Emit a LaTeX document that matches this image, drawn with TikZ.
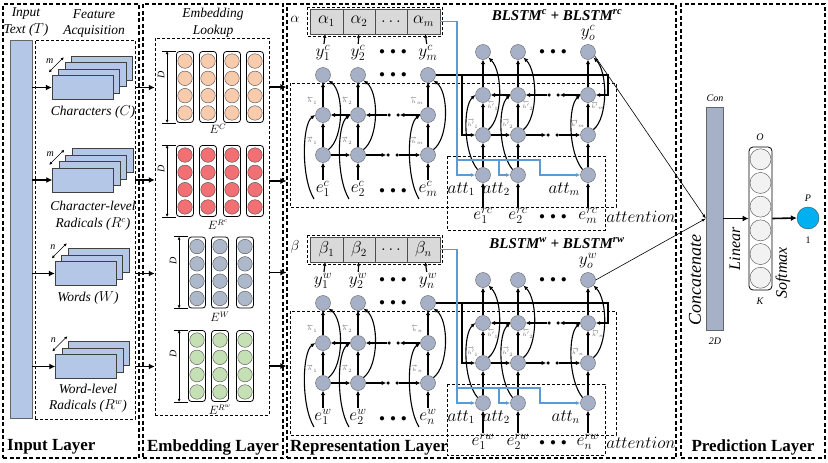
\documentclass[tikz,border=0pt]{standalone}
\usepackage{amsmath}
\usepackage{fontspec}
\setmainfont{Liberation Serif}
\usetikzlibrary{positioning, arrows.meta, calc}

\definecolor{sheetblue}{HTML}{B4C7E7}
\definecolor{peach}{HTML}{F8CBAD}
\definecolor{rose}{HTML}{F26F73}
\definecolor{slate}{HTML}{ADB9CA}
\definecolor{sage}{HTML}{C5E0B4}
\definecolor{cellgray}{HTML}{A6B0C6}
\definecolor{wgray}{HTML}{D9D9D9}
\definecolor{ogray}{HTML}{F2F2F2}
\definecolor{attblue}{HTML}{5B9BD5}
\definecolor{pcyan}{HTML}{00B0F0}

\begin{document}
\begin{tikzpicture}
    [
        x=1pt, y=-1pt,
        frame/.style={draw, line width=1.1pt, dash pattern=on 4pt off 2.5pt, inner sep=0pt},
        inbox/.style={draw, line width=0.5pt, dash pattern=on 3pt off 2pt, inner sep=0pt},
        sheet/.style={draw=black!75, fill=sheetblue, minimum width=61, minimum height=24, inner sep=0pt},
        pill/.style={draw, line width=0.8pt, rounded corners=3pt, minimum width=17, minimum height=71, inner sep=0pt},
        bead/.style={circle, draw=black!70, fill=#1, minimum size=14.5, inner sep=0pt},
        hc/.style={circle, draw=black!60, fill=cellgray, minimum size=15, inner sep=0pt},
        wcell/.style={draw=black!70, fill=wgray, minimum width=32.5, minimum height=25, inner sep=0pt, font=\fontsize{16}{16}\selectfont},
        dotn/.style={circle, fill=black, minimum size=3.5, inner sep=0pt},
        fat/.style={-{Latex[length=6pt,width=6pt]}, line width=1.6pt},
        uparr/.style={-{Latex[length=4.5pt,width=4.5pt]}, line width=1.4pt},
        hz/.style={-{Latex[length=4.5pt,width=4.5pt]}, line width=1.4pt},
        yarr/.style={-{Latex[length=3.5pt,width=3.5pt]}, line width=1.2pt},
        cv/.style={-{Latex[length=4.5pt,width=4pt]}, line width=1.1pt},
        blk/.style={-{Latex[length=4.5pt,width=4pt]}, line width=1.1pt},
        bl/.style={attblue, line width=1.1pt, -{Latex[length=4.5pt,width=4pt]}},
        lab/.style={font=\fontsize{17}{17}\selectfont, inner sep=1pt},
        atl/.style={font=\fontsize{16}{16}\selectfont, inner sep=1pt},
        hl/.style={font=\fontsize{5.5}{5.5}\selectfont, text=black!60, inner sep=0pt},
        itl/.style={font=\fontsize{13.5}{14}\selectfont\itshape, inner sep=0pt},
        sml/.style={font=\fontsize{10}{10}\selectfont\itshape, inner sep=0pt},
        ttl/.style={font=\fontsize{17}{17}\selectfont\bfseries, inner sep=0pt},
    ]
    \useasboundingbox (0,0) rectangle (828,463);

    % layers
    \node[frame, minimum width=136, minimum height=454] (inl) at (71,231) {};
    \node[frame, minimum width=140, minimum height=454] (eml) at (213,231) {};
    \node[frame, minimum width=389, minimum height=454] (rpl) at (481.5,231) {};
    \node[frame, minimum width=144, minimum height=454] (prl) at (753,231) {};
    \node[ttl, anchor=west] at (7,447) {Input Layer};
    \node[ttl] at (213,447) {Embedding Layer};
    \node[ttl, anchor=west] at (290,447) {Representation Layer};
    \node[ttl] at (753,447) {Prediction Layer};

    % input layer
    \node[draw=black!60, fill=sheetblue, minimum width=22, minimum height=378, inner sep=0pt] (txt) at (21,229) {};
    \node[itl] at (26,14) {Input};
    \node[itl] at (26,30) {Text ($T$)};
    \node[inbox, minimum width=100, minimum height=379] (fa) at (85,229.5) {};
    \node[itl] at (94,14) {Feature};
    \node[itl] at (94,31) {Acquisition};
    \node[inbox, minimum width=114, minimum height=377] (lk) at (212,226.5) {};
    \node[itl] at (213,14) {Embedding};
    \node[itl] at (213,31) {Lookup};

    \foreach \nm/\cx/\cy/\nl/\ml in {ch/82.5/87.5/4/m, rc/83/180/4/m, wd/85.5/273.5/3/n, rw/86/366.5/3/n}{
        \foreach \j in {\nl,...,1}
            \node[sheet] (\nm-\j) at ({\cx+6.5*(\j-1)},{\cy-6.5*(\j-1)}) {};
        \draw[fat] (txt.east |- \nm-1) -- (\nm-1.west);
        \draw[fat] (fa.east |- \nm-1) -- (lk.west |- \nm-1);
        \draw[{Latex[length=3pt,width=3pt]}-{Latex[length=3pt,width=3pt]}, line width=0.5pt]
            ($(\nm-1.north west)+(-3,-3)$) -- ++(15,-15);
        \node[sml] at ($(\nm-1.north west)+(-2,-14)$) {\ml};
    }
    \node[itl] at (93,112) {Characters ($C$)};
    \node[itl] at (93,206) {Character-level};
    \node[itl] at (93,224) {Radicals ($R^c$)};
    \node[itl] at (88,298) {Words ($W$)};
    \node[itl] at (88,389) {Word-level};
    \node[itl] at (88,406) {Radicals ($R^w$)};

    % embedding layer
    \foreach \g/\cy/\col/\xs/\et/\ex/\ey in {c/87/peach/{185,208,232,255}/C/218/129,
            rc/181/rose/{185,208,232,255}/{R^c}/218/225,
            w/272.5/slate/{197,220,245}/W/220/317,
            rw/366/sage/{197,220,245}/{R^w}/220/410}{
        \foreach \cx [count=\i] in \xs {
            \node[pill] (E\g-\i) at (\cx,\cy) {};
            \foreach \rr in {-1.5,-0.5,0.5,1.5}
                \node[bead=\col] at (\cx,{\cy+17.3*(\rr)}) {};
        }
        \draw[line width=0.5pt] ($(E\g-1.north west)+(-14,0)$) -- (E\g-1.north west)
            ($(E\g-1.south west)+(-14,0)$) -- (E\g-1.south west);
        \draw[{Latex[length=3pt,width=3pt]}-{Latex[length=3pt,width=3pt]}, line width=0.5pt]
            ($(E\g-1.north west)+(-9,0)$) -- ($(E\g-1.south west)+(-9,0)$);
        \node[sml, rotate=90] at ($(E\g-1.west)+(-15,-12)$) {D};
        \node[font=\fontsize{12}{12}\selectfont] at (\ex,\ey) {$E^{\et}$};
        \draw[fat] (lk.east |- E\g-1) -- (rpl.west |- E\g-1);
    }

    % representation layer
    \foreach \dy/\sx/\k/\gr/\rs/\ab/\ry in {0/c/m/\alpha/rc/230/216, 228/w/n/\beta/rw/455/442}{
        \draw[inbox] (290,83+\dy) rectangle (616,207+\dy);
        \draw[inbox] (447,156+\dy) rectangle (605,\ab);
        \node[atl] at (641,\ry+1) {$attention$};
        \node[font=\fontsize{15}{15}\selectfont\bfseries\itshape] at (557,15+\dy)
            {BLSTM\textsuperscript{\sx} + BLSTM\textsuperscript{\rs}};
        % attention weights
        \draw[inbox] (307,7+\dy) rectangle (442,36+\dy);
        \node[font=\fontsize{15}{15}\selectfont] at (295,19+\dy) {$\gr$};
        \foreach \j/\cx/\tx in {1/326.5/{\gr_1}, 2/359/{\gr_2}, 3/391/{\ldots}, 4/423.5/{\gr_\k}}
            \node[wcell] (a-\sx-\j) at (\cx,21.5+\dy) {$\tx$};
        % first BLSTM
        \foreach \i/\cx/\sub/\j in {1/323/1/1, 2/358/2/2, 3/428/\k/4}{
            \node[hc] (o-\sx-\i) at (\cx,75+\dy) {};
            \node[hc] (b-\sx-\i) at (\cx,115+\dy) {};
            \node[hc] (f-\sx-\i) at (\cx,155+\dy) {};
            \node[lab] (e-\sx-\i) at (\cx,189+\dy) {$e^{\sx}_{\sub}$};
            \node[lab] (y-\sx-\i) at (\cx,53+\dy) {$y^{\sx}_{\sub}$};
            \node[hl] at (\cx-11,101+\dy) {$\overleftarrow{h}_{\sub}$};
            \node[hl] at (\cx-11,141+\dy) {$\overrightarrow{h}_{\sub}$};
            \draw[uparr] (e-\sx-\i) -- (f-\sx-\i);
            \draw[uparr] (f-\sx-\i) -- (b-\sx-\i);
            \draw[uparr] (b-\sx-\i) -- (o-\sx-\i);
            \draw[yarr] (y-\sx-\i) -- (a-\sx-\j);
            \coordinate (l-\sx-\i) at (\cx-9,199+\dy);
            \draw[cv] (l-\sx-\i) .. controls (\cx-22,178+\dy) and (\cx-21,124+\dy) .. (b-\sx-\i.west);
            \draw[cv] (f-\sx-\i.45) .. controls (\cx+21,138+\dy) and (\cx+21,92+\dy) .. (o-\sx-\i.-45);
        }
        \node[dotn] (fd1-\sx) at (388,155+\dy) {};
        \node[dotn] (fd2-\sx) at (397,155+\dy) {};
        \node[dotn] (bd1-\sx) at (389,115+\dy) {};
        \node[dotn] (bd2-\sx) at (398,115+\dy) {};
        \draw[hz] (f-\sx-1) -- (f-\sx-2);
        \draw[hz] (f-\sx-2) -- (fd1-\sx);
        \draw[hz] (fd2-\sx) -- (f-\sx-3);
        \draw[hz] (b-\sx-2) -- (b-\sx-1);
        \draw[hz] (bd1-\sx) -- (b-\sx-2);
        \draw[hz] (b-\sx-3) -- (bd2-\sx);
        \foreach \yy in {52,75,191}
            \node[font=\fontsize{11}{11}\selectfont] at (393,\yy+\dy) {$\bullet\;\bullet\;\bullet$};
        % second BLSTM
        \foreach \i/\cx/\sub in {1/483/1, 2/518/2, 3/588/\k}{
            \node[hc] (oo-\sx-\i) at (\cx,52+\dy) {};
            \node[hc] (bb-\sx-\i) at (\cx,95+\dy) {};
            \node[hc] (ff-\sx-\i) at (\cx,135+\dy) {};
            \node[hc] (t-\sx-\i) at (\cx,175+\dy) {};
            \node[lab] (r-\sx-\i) at (\cx,\ry) {$e^{\rs}_{\sub}$};
            \node[atl, anchor=east] at (\cx-7,189+\dy) {$att_{\sub}$};
            \node[hl] at (\cx+10,106+\dy) {$\overleftarrow{h'}_{\sub}$};
            \node[hl] at (\cx-10,124+\dy) {$\overrightarrow{h'}_{\sub}$};
            \draw[uparr] (r-\sx-\i) -- (t-\sx-\i);
            \draw[uparr] (t-\sx-\i) -- (ff-\sx-\i);
            \draw[uparr] (ff-\sx-\i) -- (bb-\sx-\i);
            \draw[uparr] (bb-\sx-\i) -- (oo-\sx-\i);
            \draw[cv] (t-\sx-\i.135) .. controls (\cx-20,152+\dy) and (\cx-20,106+\dy) .. (bb-\sx-\i.west);
            \draw[cv] (ff-\sx-\i.45) .. controls (\cx+20,118+\dy) and (\cx+20,72+\dy) .. (oo-\sx-\i.-45);
        }
        \node[lab] at (588,33+\dy) {$y^{\sx}_{o}$};
        \node[dotn] (gd1-\sx) at (548,135+\dy) {};
        \node[dotn] (gd2-\sx) at (557,135+\dy) {};
        \node[dotn] (hd1-\sx) at (549,95+\dy) {};
        \node[dotn] (hd2-\sx) at (558,95+\dy) {};
        \draw[hz] (ff-\sx-1) -- (ff-\sx-2);
        \draw[hz] (ff-\sx-2) -- (gd1-\sx);
        \draw[hz] (gd2-\sx) -- (ff-\sx-3);
        \draw[hz] (bb-\sx-2) -- (bb-\sx-1);
        \draw[hz] (hd1-\sx) -- (bb-\sx-2);
        \draw[hz] (bb-\sx-3) -- (hd2-\sx);
        \node[font=\fontsize{11}{11}\selectfont] at (553,52+\dy) {$\bullet\;\bullet\;\bullet$};
        \node[font=\fontsize{11}{11}\selectfont] at (553,\ry+1) {$\bullet\;\bullet\;\bullet$};
        % state hand-over and attention feed
        \coordinate (k1-\sx) at (608,75+\dy);
        \coordinate (k2-\sx) at (462,75+\dy);
        \draw[blk] (o-\sx-3.east) -- (k1-\sx) |- (bb-\sx-3.east);
        \draw[blk] (k2-\sx) |- (ff-\sx-1.west);
        \coordinate (q1-\sx) at (457,160+\dy);
        \coordinate (q2-\sx) at (499,160+\dy);
        \coordinate (q3-\sx) at (540,160+\dy);
        \draw[bl] (a-\sx-4.east) -| (q1-\sx) |- (t-\sx-1.west);
        \draw[bl] (q1-\sx) -- (q3-\sx) |- (t-\sx-3.west);
        \draw[bl] (q2-\sx) |- (t-\sx-2.west);
    }

    % prediction layer
    \node[draw=black!60, fill=cellgray, minimum width=17, minimum height=223, inner sep=0pt] (con) at (714.5,218.5) {};
    \node[sml] at (715,98) {Con};
    \node[sml] at (715,341) {2D};
    \node[rotate=90, font=\fontsize{18}{18}\selectfont\itshape] at (695,280) {Concatenate};
    \draw[-{Latex[length=4pt,width=3pt]}, line width=0.6pt] (oo-c-3.-30) -- (con.west);
    \draw[-{Latex[length=4pt,width=3pt]}, line width=0.6pt] (oo-w-3.east) -- (con.west);
    \node[draw, line width=0.8pt, rounded corners=4pt, minimum width=23, minimum height=143, inner sep=0pt] (ol) at (760.5,218.5) {};
    \foreach \rr in {-2.5,-1.5,...,2.5}
        \node[bead=ogray, minimum size=21] at (760.5,{218.5+23.7*(\rr)}) {};
    \node[sml] at (760,137) {O};
    \node[sml] at (760,301) {K};
    \node[rotate=90, font=\fontsize{16}{16}\selectfont\itshape] at (735,249) {Linear};
    \node[rotate=90, font=\fontsize{16}{16}\selectfont\itshape] at (783,273) {Softmax};
    \node[circle, draw=black!70, fill=pcyan, minimum size=22, inner sep=0pt] (p) at (808,218) {};
    \draw[fat] (con.east) -- (ol.west);
    \draw[fat] (ol.east) -- (p.west);
    \node[sml] at (808,198) {P};
    \node[font=\fontsize{10}{10}\selectfont] at (808,240) {1};
\end{tikzpicture}
\end{document}
